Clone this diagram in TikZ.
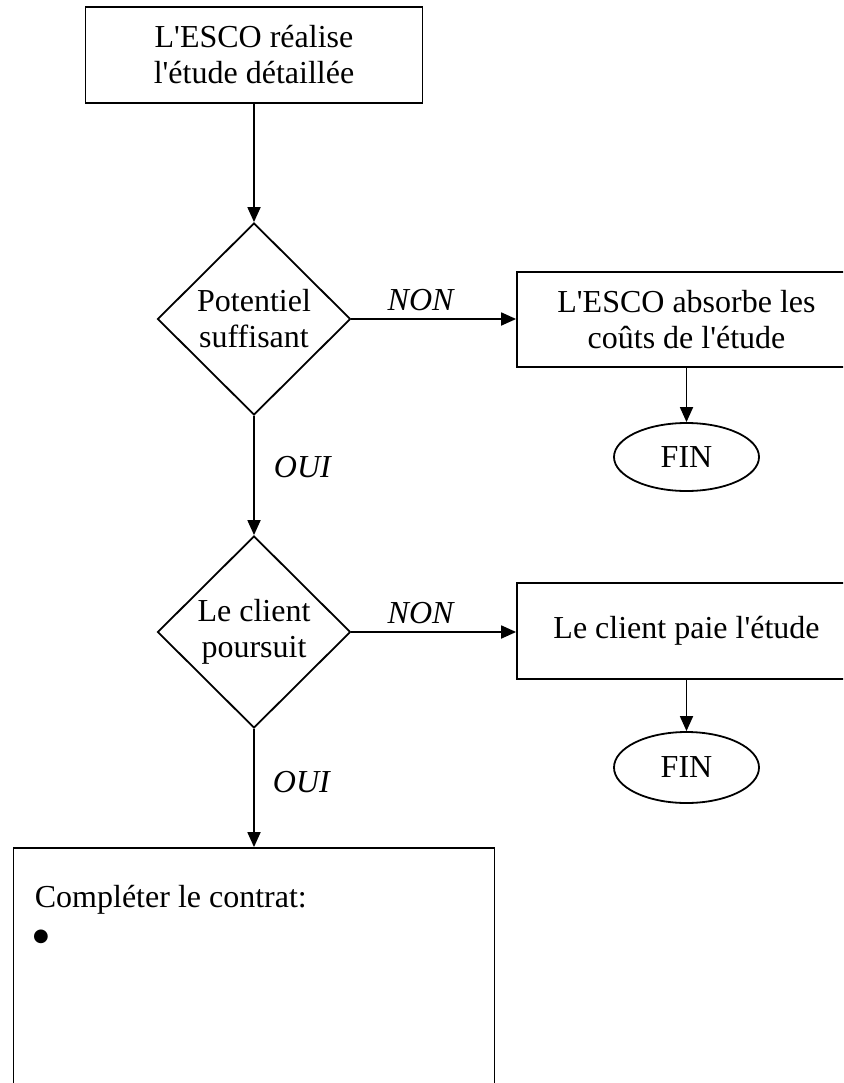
\documentclass[tikz,border=0pt]{standalone}
\usepackage{fontspec}
\setmainfont{Liberation Serif}[Ligatures=TeXOff]
\newfontfamily\markfont{DejaVu Sans}
\usetikzlibrary{shapes.geometric,arrows.meta}
\begin{document}
\begin{tikzpicture}[x=1pt,y=-1pt,
  line width=1.8pt,
  every node/.style={font=\fontsize{32}{36}\selectfont},
  stepbox/.style={draw, rectangle, inner sep=0pt, align=center},
  decision/.style={draw, diamond, inner sep=0pt, minimum width=193pt, minimum height=192pt, align=center},
  endnode/.style={draw, ellipse, inner sep=0pt, minimum width=145pt, minimum height=68pt},
  arr/.style={-{Triangle[length=15pt,width=13pt]}},
  edgelabel/.style={font=\fontsize{32}{36}\selectfont\itshape, inner sep=0pt}
]
% page frame
\fill[white] (0,0) rectangle (843,1083);
\path[use as bounding box] (0,0) rectangle (843,1083);
\clip (0,0) rectangle (843,1083);

% steps and decisions
\node[stepbox, minimum width=337pt, minimum height=96pt] (start) at (254,55) {L'ESCO réalise\\l'étude détaillée};
\node[decision] (d1) at (254,319) {Potentiel\\suffisant};
\node[stepbox, minimum width=339pt, minimum height=95pt] (b2) at (686.5,319.5) {L'ESCO absorbe les\\coûts de l'étude};
\node[endnode] (f1) at (686.5,457) {FIN};
\node[decision] (d2) at (254,632) {Le client\\poursuit};
\node[stepbox, minimum width=339pt, minimum height=96pt] (b3) at (686.5,631) {Le client paie l'étude};
\node[endnode, minimum height=71pt] (f2) at (686.5,767.5) {FIN};
\node[stepbox, minimum width=481pt, minimum height=260pt] (contract) at (254,978) {};
\node[anchor=base west, inner sep=0pt] (ctext) at (34,907) {Compléter le contrat:};
\node[inner sep=0pt, font=\markfont\fontsize{18}{18}\selectfont] (bullet) at (41,937) {●};

% connectors
\draw[arr] (start) -- (d1);
\draw[arr] (d1.east) -- node[edgelabel, pos=0.42, anchor=base, yshift=9pt] {NON} (d1.east -| b2.west);
\draw[arr] (b2) -- (f1);
\draw[arr] (d1) -- node[edgelabel, pos=0.52, anchor=base west, xshift=19pt] {OUI} (d2);
\draw[arr] (d2.east) -- node[edgelabel, pos=0.42, anchor=base, yshift=9pt] {NON} (d2.east -| b3.west);
\draw[arr] (b3) -- (f2);
\draw[arr] (d2) -- node[edgelabel, pos=0.537, anchor=base west, xshift=18pt] {OUI} (contract);
\end{tikzpicture}
\end{document}
